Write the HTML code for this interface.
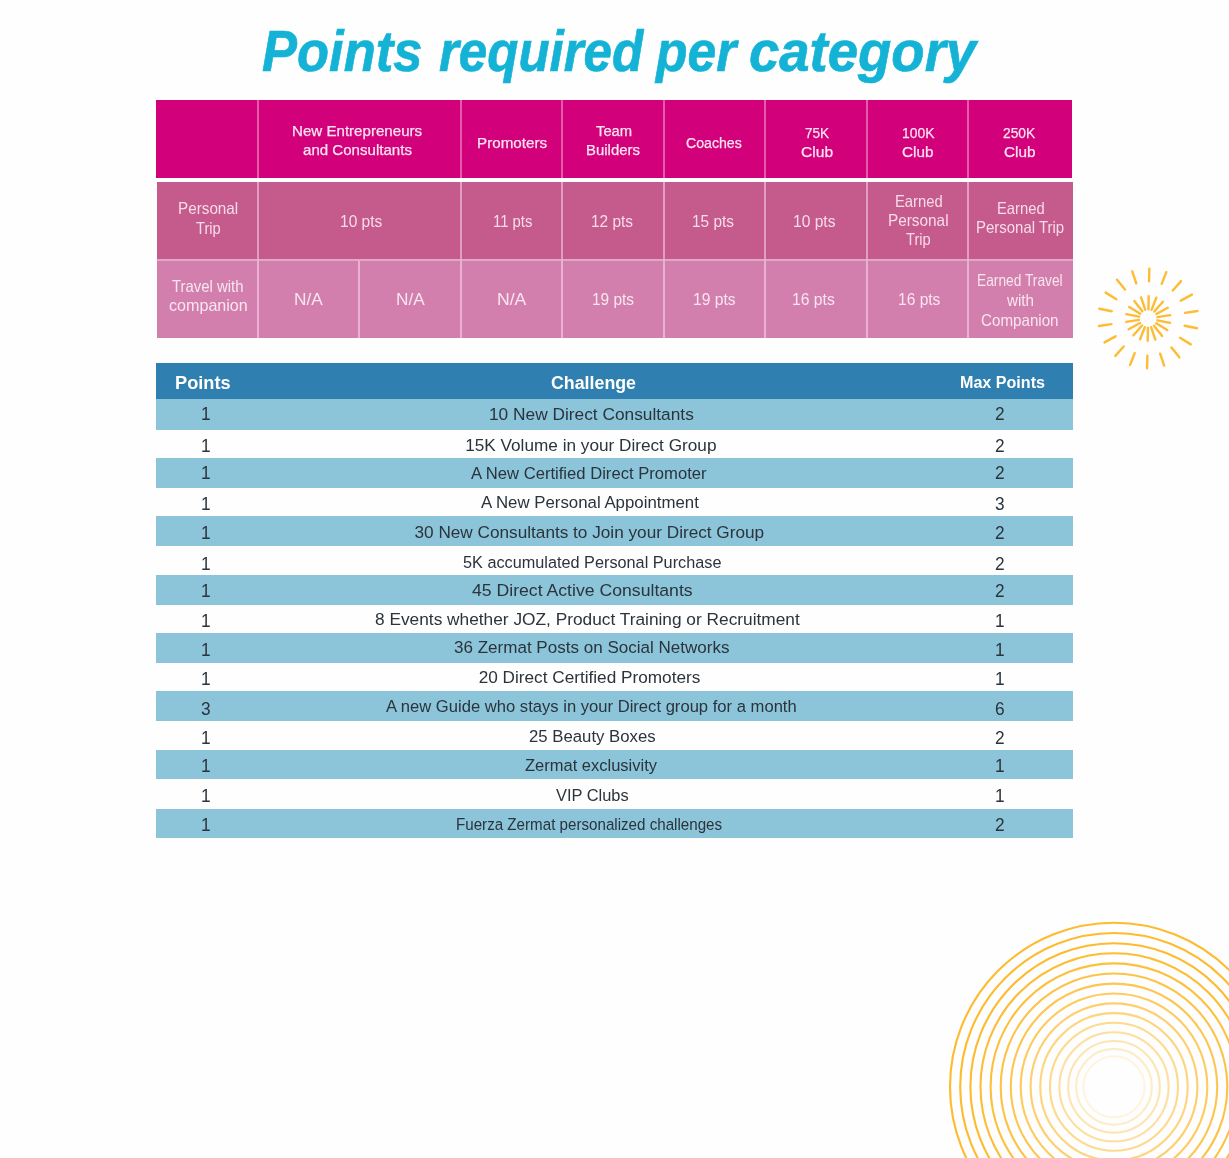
<!DOCTYPE html>
<html lang="en"><head><meta charset="utf-8"><title>Points required per category</title>
<style>
html,body{margin:0;padding:0;}
body{width:1229px;height:1158px;position:relative;overflow:hidden;background:#fefefe;font-family:'Liberation Sans', Arial, sans-serif;}
.t{position:absolute;white-space:nowrap;line-height:20px;transform-origin:0 50%;}
.bx{position:absolute;}
.ttl{font-style:italic;font-weight:700;color:#14b3d6;-webkit-text-stroke:0.7px #14b3d6;}
.h1{color:#fbe3f0;-webkit-text-stroke:0.25px #fbe3f0;}
.b2{color:#f6dce8;}
.b3{color:#f8e6ef;}
.h2{font-weight:700;color:#fff;}
.c2{color:#2b333b;}
.n2{color:#2b333b;}
</style></head>
<body>
<svg class="bx" style="left:0;top:0" width="1229" height="1158" viewBox="0 0 1229 1158">
<g stroke="#fdbc34" stroke-width="2.4" stroke-linecap="round" fill="none"><line x1="1148.41" y1="309.20" x2="1148.71" y2="296.21"/><line x1="1149.04" y1="281.31" x2="1149.33" y2="268.71"/><line x1="1151.58" y1="309.84" x2="1156.30" y2="297.72"/><line x1="1161.71" y1="283.84" x2="1166.29" y2="272.10"/><line x1="1154.34" y1="311.51" x2="1162.92" y2="301.75"/><line x1="1172.75" y1="290.55" x2="1181.07" y2="281.09"/><line x1="1156.36" y1="314.03" x2="1167.76" y2="307.79"/><line x1="1180.83" y1="300.64" x2="1191.88" y2="294.58"/><line x1="1157.39" y1="317.09" x2="1170.24" y2="315.13"/><line x1="1184.97" y1="312.87" x2="1197.43" y2="310.97"/><line x1="1157.32" y1="320.32" x2="1170.07" y2="322.87"/><line x1="1184.68" y1="325.79" x2="1197.03" y2="328.26"/><line x1="1156.15" y1="323.33" x2="1167.25" y2="330.09"/><line x1="1179.99" y1="337.83" x2="1190.75" y2="344.37"/><line x1="1154.01" y1="325.76" x2="1162.14" y2="335.90"/><line x1="1171.46" y1="347.53" x2="1179.34" y2="357.37"/><line x1="1151.18" y1="327.31" x2="1155.35" y2="339.62"/><line x1="1160.13" y1="353.74" x2="1164.17" y2="365.67"/><line x1="1147.99" y1="327.80" x2="1147.69" y2="340.79"/><line x1="1147.36" y1="355.69" x2="1147.07" y2="368.29"/><line x1="1144.82" y1="327.16" x2="1140.10" y2="339.28"/><line x1="1134.69" y1="353.16" x2="1130.11" y2="364.90"/><line x1="1142.06" y1="325.49" x2="1133.48" y2="335.25"/><line x1="1123.65" y1="346.45" x2="1115.33" y2="355.91"/><line x1="1140.04" y1="322.97" x2="1128.64" y2="329.21"/><line x1="1115.57" y1="336.36" x2="1104.52" y2="342.42"/><line x1="1139.01" y1="319.91" x2="1126.16" y2="321.87"/><line x1="1111.43" y1="324.13" x2="1098.97" y2="326.03"/><line x1="1139.08" y1="316.68" x2="1126.33" y2="314.13"/><line x1="1111.72" y1="311.21" x2="1099.37" y2="308.74"/><line x1="1140.25" y1="313.67" x2="1129.15" y2="306.91"/><line x1="1116.41" y1="299.17" x2="1105.65" y2="292.63"/><line x1="1142.39" y1="311.24" x2="1134.26" y2="301.10"/><line x1="1124.94" y1="289.47" x2="1117.06" y2="279.63"/><line x1="1145.22" y1="309.69" x2="1141.05" y2="297.38"/><line x1="1136.27" y1="283.26" x2="1132.23" y2="271.33"/></g>
<g stroke="#fdbb2d" stroke-width="2.1" fill="none"><circle cx="1114" cy="1086.8" r="164" stroke-opacity="1"/><circle cx="1114" cy="1086.8" r="153.8" stroke-opacity="1"/><circle cx="1114" cy="1086.8" r="143.6" stroke-opacity="1"/><circle cx="1114" cy="1086.8" r="133.5" stroke-opacity="0.97"/><circle cx="1114" cy="1086.8" r="123.4" stroke-opacity="0.93"/><circle cx="1114" cy="1086.8" r="113.3" stroke-opacity="0.88"/><circle cx="1114" cy="1086.8" r="103.2" stroke-opacity="0.83"/><circle cx="1114" cy="1086.8" r="93.3" stroke-opacity="0.77"/><circle cx="1114" cy="1086.8" r="83.4" stroke-opacity="0.7"/><circle cx="1114" cy="1086.8" r="73.7" stroke-opacity="0.62"/><circle cx="1114" cy="1086.8" r="64.0" stroke-opacity="0.54"/><circle cx="1114" cy="1086.8" r="54.6" stroke-opacity="0.45"/><circle cx="1114" cy="1086.8" r="45.8" stroke-opacity="0.36"/><circle cx="1114" cy="1086.8" r="37.9" stroke-opacity="0.26"/><circle cx="1114" cy="1086.8" r="30.6" stroke-opacity="0.15"/></g>
</svg>
<div class="bx" style="left:156.0px;top:100.0px;width:916.3px;height:77.8px;background:#d2007a;"></div>
<div class="bx" style="left:157.0px;top:182.0px;width:916.0px;height:78.0px;background:#c55a8c;"></div>
<div class="bx" style="left:157.0px;top:260.0px;width:916.0px;height:78.0px;background:#d37fae;"></div>
<div class="bx" style="left:157.0px;top:259.0px;width:916.0px;height:2.0px;background:#e2a6c8;"></div>
<div class="bx" style="left:257.0px;top:100.0px;width:2.0px;height:78.0px;background:#e05ba8;"></div>
<div class="bx" style="left:257.0px;top:182.0px;width:2.0px;height:77.0px;background:#e39cc4;"></div>
<div class="bx" style="left:257.0px;top:259.0px;width:2.0px;height:79.0px;background:#e9b1d1;"></div>
<div class="bx" style="left:460.0px;top:100.0px;width:2.0px;height:78.0px;background:#e05ba8;"></div>
<div class="bx" style="left:460.0px;top:182.0px;width:2.0px;height:77.0px;background:#e39cc4;"></div>
<div class="bx" style="left:460.0px;top:259.0px;width:2.0px;height:79.0px;background:#e9b1d1;"></div>
<div class="bx" style="left:561.0px;top:100.0px;width:2.0px;height:78.0px;background:#e05ba8;"></div>
<div class="bx" style="left:561.0px;top:182.0px;width:2.0px;height:77.0px;background:#e39cc4;"></div>
<div class="bx" style="left:561.0px;top:259.0px;width:2.0px;height:79.0px;background:#e9b1d1;"></div>
<div class="bx" style="left:663.0px;top:100.0px;width:2.0px;height:78.0px;background:#e05ba8;"></div>
<div class="bx" style="left:663.0px;top:182.0px;width:2.0px;height:77.0px;background:#e39cc4;"></div>
<div class="bx" style="left:663.0px;top:259.0px;width:2.0px;height:79.0px;background:#e9b1d1;"></div>
<div class="bx" style="left:764.0px;top:100.0px;width:2.0px;height:78.0px;background:#e05ba8;"></div>
<div class="bx" style="left:764.0px;top:182.0px;width:2.0px;height:77.0px;background:#e39cc4;"></div>
<div class="bx" style="left:764.0px;top:259.0px;width:2.0px;height:79.0px;background:#e9b1d1;"></div>
<div class="bx" style="left:866.0px;top:100.0px;width:2.0px;height:78.0px;background:#e05ba8;"></div>
<div class="bx" style="left:866.0px;top:182.0px;width:2.0px;height:77.0px;background:#e39cc4;"></div>
<div class="bx" style="left:866.0px;top:259.0px;width:2.0px;height:79.0px;background:#e9b1d1;"></div>
<div class="bx" style="left:967.0px;top:100.0px;width:2.0px;height:78.0px;background:#e05ba8;"></div>
<div class="bx" style="left:967.0px;top:182.0px;width:2.0px;height:77.0px;background:#e39cc4;"></div>
<div class="bx" style="left:967.0px;top:259.0px;width:2.0px;height:79.0px;background:#e9b1d1;"></div>
<div class="bx" style="left:358.0px;top:261.0px;width:2.0px;height:77.0px;background:#e9b1d1;"></div>
<div class="bx" style="left:156.0px;top:363.0px;width:917.0px;height:36.0px;background:#2f7fb0;"></div>
<div class="bx" style="left:156.0px;top:399.2px;width:917.0px;height:30.4px;background:#8cc5da;"></div>
<div class="bx" style="left:156.0px;top:457.9px;width:917.0px;height:29.9px;background:#8cc5da;"></div>
<div class="bx" style="left:156.0px;top:516.1px;width:917.0px;height:30.3px;background:#8cc5da;"></div>
<div class="bx" style="left:156.0px;top:574.8px;width:917.0px;height:29.8px;background:#8cc5da;"></div>
<div class="bx" style="left:156.0px;top:633.0px;width:917.0px;height:30.0px;background:#8cc5da;"></div>
<div class="bx" style="left:156.0px;top:691.4px;width:917.0px;height:29.9px;background:#8cc5da;"></div>
<div class="bx" style="left:156.0px;top:750.1px;width:917.0px;height:29.4px;background:#8cc5da;"></div>
<div class="bx" style="left:156.0px;top:808.7px;width:917.0px;height:29.5px;background:#8cc5da;"></div>
<span class="t ttl" style="left:261.50px;top:41.00px;font-size:58px;transform:scaleX(0.9047);">Points</span>
<span class="t ttl" style="left:439.20px;top:41.00px;font-size:58px;transform:scaleX(0.8796);">required</span>
<span class="t ttl" style="left:655.78px;top:41.00px;font-size:58px;transform:scaleX(0.8883);">per</span>
<span class="t ttl" style="left:748.96px;top:41.00px;font-size:58px;transform:scaleX(0.9396);">category</span>
<span class="t h1" style="left:292.33px;top:121.00px;font-size:15.5px;transform:scaleX(0.9745);">New Entrepreneurs</span>
<span class="t h1" style="left:303.40px;top:140.00px;font-size:15.5px;transform:scaleX(0.9727);">and Consultants</span>
<span class="t h1" style="left:476.52px;top:133.00px;font-size:15.5px;transform:scaleX(0.9796);">Promoters</span>
<span class="t h1" style="left:596.10px;top:121.00px;font-size:15.5px;transform:scaleX(0.9543);">Team</span>
<span class="t h1" style="left:586.04px;top:140.00px;font-size:15.5px;transform:scaleX(0.9629);">Builders</span>
<span class="t h1" style="left:686.10px;top:133.00px;font-size:15.5px;transform:scaleX(0.9117);">Coaches</span>
<span class="t h1" style="left:804.70px;top:123.00px;font-size:15.5px;transform:scaleX(0.8746);">75K</span>
<span class="t h1" style="left:800.90px;top:142.00px;font-size:15.5px;transform:scaleX(1.0078);">Club</span>
<span class="t h1" style="left:901.50px;top:123.00px;font-size:15.5px;transform:scaleX(0.8951);">100K</span>
<span class="t h1" style="left:902.40px;top:142.00px;font-size:15.5px;transform:scaleX(0.9854);">Club</span>
<span class="t h1" style="left:1003.30px;top:123.00px;font-size:15.5px;transform:scaleX(0.8898);">250K</span>
<span class="t h1" style="left:1004.00px;top:142.00px;font-size:15.5px;transform:scaleX(0.9886);">Club</span>
<span class="t b2" style="left:177.67px;top:198.00px;font-size:16.5px;transform:scaleX(0.9250);">Personal</span>
<span class="t b2" style="left:195.50px;top:218.00px;font-size:16.5px;transform:scaleX(0.8868);">Trip</span>
<span class="t b2" style="left:339.86px;top:211.00px;font-size:16.5px;transform:scaleX(0.9405);">10 pts</span>
<span class="t b2" style="left:492.50px;top:211.00px;font-size:16.5px;transform:scaleX(0.9017);">11 pts</span>
<span class="t b2" style="left:590.56px;top:211.00px;font-size:16.5px;transform:scaleX(0.9360);">12 pts</span>
<span class="t b2" style="left:692.27px;top:211.00px;font-size:16.5px;transform:scaleX(0.9337);">15 pts</span>
<span class="t b2" style="left:793.15px;top:211.00px;font-size:16.5px;transform:scaleX(0.9451);">10 pts</span>
<span class="t b2" style="left:894.50px;top:191.00px;font-size:16.5px;transform:scaleX(0.8956);">Earned</span>
<span class="t b2" style="left:888.37px;top:210.00px;font-size:16.5px;transform:scaleX(0.9298);">Personal</span>
<span class="t b2" style="left:906.20px;top:229.00px;font-size:16.5px;transform:scaleX(0.8868);">Trip</span>
<span class="t b2" style="left:996.90px;top:198.00px;font-size:16.5px;transform:scaleX(0.8956);">Earned</span>
<span class="t b2" style="left:976.39px;top:217.00px;font-size:16.5px;transform:scaleX(0.9062);">Personal Trip</span>
<span class="t b3" style="left:171.70px;top:276.00px;font-size:16.5px;transform:scaleX(0.9040);">Travel with</span>
<span class="t b3" style="left:168.50px;top:295.00px;font-size:16.5px;transform:scaleX(0.9759);">companion</span>
<span class="t b3" style="left:294.35px;top:289.00px;font-size:16.5px;transform:scaleX(1.0453);">N/A</span>
<span class="t b3" style="left:395.75px;top:289.00px;font-size:16.5px;transform:scaleX(1.0453);">N/A</span>
<span class="t b3" style="left:496.83px;top:289.00px;font-size:16.5px;transform:scaleX(1.0679);">N/A</span>
<span class="t b3" style="left:591.86px;top:289.00px;font-size:16.5px;transform:scaleX(0.9360);">19 pts</span>
<span class="t b3" style="left:693.45px;top:289.00px;font-size:16.5px;transform:scaleX(0.9474);">19 pts</span>
<span class="t b3" style="left:792.35px;top:289.00px;font-size:16.5px;transform:scaleX(0.9520);">16 pts</span>
<span class="t b3" style="left:897.66px;top:289.00px;font-size:16.5px;transform:scaleX(0.9428);">16 pts</span>
<span class="t b3" style="left:977.27px;top:270.00px;font-size:16.5px;transform:scaleX(0.8337);">Earned Travel</span>
<span class="t b3" style="left:1006.72px;top:290.00px;font-size:16.5px;transform:scaleX(0.9216);">with</span>
<span class="t b3" style="left:981.40px;top:310.00px;font-size:16.5px;transform:scaleX(0.9191);">Companion</span>
<span class="t h2" style="left:175.32px;top:373.00px;font-size:18.5px;transform:scaleX(0.9848);">Points</span>
<span class="t h2" style="left:550.90px;top:373.00px;font-size:18px;transform:scaleX(0.9883);">Challenge</span>
<span class="t h2" style="left:960.29px;top:373.00px;font-size:16px;transform:scaleX(1.0064);">Max Points</span>
<span class="t c2" style="left:488.89px;top:404.00px;font-size:17.2px;transform:scaleX(1.0065);">10 New Direct Consultants</span>
<span class="t n2" style="left:200.55px;top:404.00px;font-size:19.2px;transform:scaleX(0.9000);">1</span>
<span class="t n2" style="left:995.30px;top:404.00px;font-size:19.2px;transform:scaleX(0.9000);">2</span>
<span class="t c2" style="left:465.20px;top:435.00px;font-size:17.2px;">15K Volume in your Direct Group</span>
<span class="t n2" style="left:200.55px;top:436.00px;font-size:19.2px;transform:scaleX(0.9000);">1</span>
<span class="t n2" style="left:995.30px;top:436.00px;font-size:19.2px;transform:scaleX(0.9000);">2</span>
<span class="t c2" style="left:471.20px;top:463.00px;font-size:17.2px;transform:scaleX(0.9670);">A New Certified Direct Promoter</span>
<span class="t n2" style="left:200.55px;top:463.00px;font-size:19.2px;transform:scaleX(0.9000);">1</span>
<span class="t n2" style="left:995.30px;top:463.00px;font-size:19.2px;transform:scaleX(0.9000);">2</span>
<span class="t c2" style="left:481.20px;top:492.00px;font-size:17.2px;transform:scaleX(0.9785);">A New Personal Appointment</span>
<span class="t n2" style="left:200.55px;top:494.00px;font-size:19.2px;transform:scaleX(0.9000);">1</span>
<span class="t n2" style="left:995.30px;top:494.00px;font-size:19.2px;transform:scaleX(0.9000);">3</span>
<span class="t c2" style="left:414.50px;top:522.00px;font-size:17.2px;">30 New Consultants to Join your Direct Group</span>
<span class="t n2" style="left:200.55px;top:523.00px;font-size:19.2px;transform:scaleX(0.9000);">1</span>
<span class="t n2" style="left:995.30px;top:523.00px;font-size:19.2px;transform:scaleX(0.9000);">2</span>
<span class="t c2" style="left:463.20px;top:552.00px;font-size:17.2px;transform:scaleX(0.9458);">5K accumulated Personal Purchase</span>
<span class="t n2" style="left:200.55px;top:554.00px;font-size:19.2px;transform:scaleX(0.9000);">1</span>
<span class="t n2" style="left:995.30px;top:554.00px;font-size:19.2px;transform:scaleX(0.9000);">2</span>
<span class="t c2" style="left:471.90px;top:580.00px;font-size:17.2px;transform:scaleX(1.0265);">45 Direct Active Consultants</span>
<span class="t n2" style="left:200.55px;top:581.00px;font-size:19.2px;transform:scaleX(0.9000);">1</span>
<span class="t n2" style="left:995.30px;top:581.00px;font-size:19.2px;transform:scaleX(0.9000);">2</span>
<span class="t c2" style="left:374.50px;top:609.00px;font-size:17.2px;transform:scaleX(1.0060);">8 Events whether JOZ, Product Training or Recruitment</span>
<span class="t n2" style="left:200.55px;top:611.00px;font-size:19.2px;transform:scaleX(0.9000);">1</span>
<span class="t n2" style="left:994.85px;top:611.00px;font-size:19.2px;transform:scaleX(0.9000);">1</span>
<span class="t c2" style="left:454.40px;top:637.00px;font-size:17.2px;transform:scaleX(0.9911);">36 Zermat Posts on Social Networks</span>
<span class="t n2" style="left:200.55px;top:640.00px;font-size:19.2px;transform:scaleX(0.9000);">1</span>
<span class="t n2" style="left:994.85px;top:640.00px;font-size:19.2px;transform:scaleX(0.9000);">1</span>
<span class="t c2" style="left:478.70px;top:667.00px;font-size:17.2px;">20 Direct Certified Promoters</span>
<span class="t n2" style="left:200.55px;top:669.00px;font-size:19.2px;transform:scaleX(0.9000);">1</span>
<span class="t n2" style="left:994.85px;top:669.00px;font-size:19.2px;transform:scaleX(0.9000);">1</span>
<span class="t c2" style="left:386.20px;top:696.00px;font-size:17.2px;transform:scaleX(0.9661);">A new Guide who stays in your Direct group for a month</span>
<span class="t n2" style="left:201.00px;top:699.00px;font-size:19.2px;transform:scaleX(0.9000);">3</span>
<span class="t n2" style="left:995.30px;top:699.00px;font-size:19.2px;transform:scaleX(0.9000);">6</span>
<span class="t c2" style="left:529.40px;top:726.00px;font-size:17.2px;transform:scaleX(0.9749);">25 Beauty Boxes</span>
<span class="t n2" style="left:200.55px;top:728.00px;font-size:19.2px;transform:scaleX(0.9000);">1</span>
<span class="t n2" style="left:995.30px;top:728.00px;font-size:19.2px;transform:scaleX(0.9000);">2</span>
<span class="t c2" style="left:524.90px;top:755.00px;font-size:17.2px;transform:scaleX(0.9599);">Zermat exclusivity</span>
<span class="t n2" style="left:200.55px;top:756.00px;font-size:19.2px;transform:scaleX(0.9000);">1</span>
<span class="t n2" style="left:994.85px;top:756.00px;font-size:19.2px;transform:scaleX(0.9000);">1</span>
<span class="t c2" style="left:555.60px;top:785.00px;font-size:17.2px;transform:scaleX(0.9548);">VIP Clubs</span>
<span class="t n2" style="left:200.55px;top:786.00px;font-size:19.2px;transform:scaleX(0.9000);">1</span>
<span class="t n2" style="left:994.85px;top:786.00px;font-size:19.2px;transform:scaleX(0.9000);">1</span>
<span class="t c2" style="left:456.02px;top:814.00px;font-size:17.2px;transform:scaleX(0.8815);">Fuerza Zermat personalized challenges</span>
<span class="t n2" style="left:200.55px;top:815.00px;font-size:19.2px;transform:scaleX(0.9000);">1</span>
<span class="t n2" style="left:995.30px;top:815.00px;font-size:19.2px;transform:scaleX(0.9000);">2</span>
</body></html>
